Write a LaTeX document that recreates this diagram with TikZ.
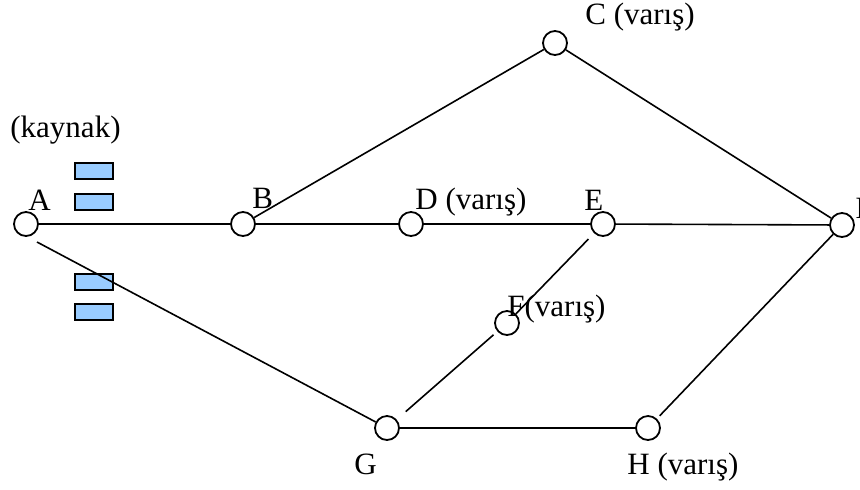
\documentclass[tikz,border=0pt]{standalone}
\usepackage{fontspec}
\setmainfont{Liberation Serif}
\usetikzlibrary{positioning}
\definecolor{pktblue}{HTML}{99CCFF}

\begin{document}
\begin{tikzpicture}[x=0.5pt, y=-0.5pt,
  font=\fontsize{15.5}{18}\selectfont,
  vertex/.style={draw, circle, line width=0.9pt, minimum size=12pt, inner sep=0pt, fill=white},
  tag/.style={anchor=base west, inner sep=0pt},
  packet/.style={draw, line width=1pt, fill=pktblue, minimum width=19pt, minimum height=8pt, inner sep=0pt},
  link/.style={line width=0.8pt}]
  \useasboundingbox (0,0) rectangle (860,489);
  % packets waiting at the source
  \node[packet] (p1) at (93.5,171) {};
  \node[packet] (p2) at (93.5,201.5) {};
  \node[packet] (p3) at (93.5,282) {};
  \node[packet] (p4) at (93.5,311.5) {};
  % routers
  \node[vertex] (A) at (26,224) {};
  \node[vertex] (B) at (243,224) {};
  \node[vertex] (D) at (411,224) {};
  \node[vertex] (E) at (603,224) {};
  \node[vertex] (I) at (842,225) {};
  \node[vertex] (C) at (555,43) {};
  \node[vertex] (F) at (507,323) {};
  \node[vertex] (G) at (387,428) {};
  \node[vertex] (H) at (648,428) {};
  % labels
  \node[tag] (kaynak) at (10,137) {(kaynak)};
  \node[tag] (labA) at (28,210) {A};
  \node[tag] (labB) at (252,208) {B};
  \node[tag] (labD) at (415,209) {D (varış)};
  \node[tag] (labE) at (584,210) {E};
  \node[tag] (labI) at (855,218) {I};
  \node[tag] (labC) at (585,24) {C (varış)};
  \node[tag] (labF) at (507,316) {F(varış)};
  \node[tag] (labG) at (354,474) {G};
  \node[tag] (labH) at (627,474) {H (varış)};
  % links
  \draw[link] (A) -- (B);
  \draw[link] (B) -- (D);
  \draw[link] (D) -- (E);
  \draw[link] (E) -- (I);
  \draw[link] (B) -- (C);
  \draw[link] (C) -- (I);
  \coordinate (Aout) at ([shift={(11,18)}]A.center);
  \draw[link] (Aout) -- (G);
  \draw[link] (G) -- (H);
  \draw[link, shorten <=2pt] (H) -- (I);
  \draw[link, shorten <=4pt] (E) -- (F);
  \draw[link, shorten <=2.5pt, shorten >=6pt] (F) -- (G);
\end{tikzpicture}
\end{document}
